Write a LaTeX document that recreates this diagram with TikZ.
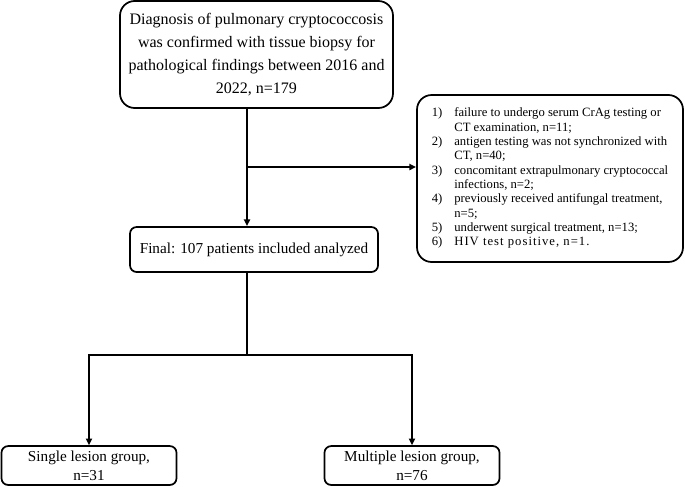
\documentclass[tikz,border=0pt]{standalone}
\usepackage{fontspec}
\setmainfont{Liberation Serif}
\usetikzlibrary{arrows.meta, positioning, calc}

\begin{document}
\begin{tikzpicture}[x=0.75pt, y=-0.75pt]
                \tikzstyle{bigbox} = [draw, line width=1.3pt, rounded corners=11pt, align=center, font=\fontsize{12}{17.2}\selectfont]
                \tikzstyle{smallbox} = [draw, line width=1.3pt, rounded corners=5pt, align=center, font=\fontsize{11.4}{14.5}\selectfont]
                \tikzstyle{flow} = [draw, line width=1.3pt]
                \tikzstyle{arr} = [flow, -{Triangle[length=5pt, width=4.5pt]}]

                \useasboundingbox (0,0) rectangle (685,486);

                \node[bigbox, minimum width=204.75pt, minimum height=80.25pt] (diag) at (256.5,54.5)
                    {Diagnosis of pulmonary cryptococcosis\\ was confirmed with tissue biopsy for\\ pathological findings between 2016 and\\ 2022, n=179};
                \node[bigbox, minimum width=199.5pt, minimum height=125.25pt, font=\fontsize{9.5}{10.75}\selectfont] (excl) at (550,178.5)
                    {\begin{tabular}{@{}l@{\hspace{9pt}}l@{}}
                     1) & failure to undergo serum CrAg testing or\\
                        & CT examination, n=11;\\
                     2) & antigen testing was not synchronized with\\
                        & CT, n=40;\\
                     3) & concomitant extrapulmonary cryptococcal\\
                        & infections, n=2;\\
                     4) & previously received antifungal treatment,\\
                        & n=5;\\
                     5) & underwent surgical treatment, n=13;\\
                     6) & {\addfontfeatures{LetterSpace=8}HIV test positive, n=1.}
                     \end{tabular}};
                \node[smallbox, minimum width=186pt, minimum height=33.75pt] (final) at (254,249.5)
                    {Final: 107 patients included analyzed};
                \node[smallbox, minimum width=131.25pt, minimum height=27.75pt] (single) at (89,465.5)
                    {Single lesion group,\\ n=31};
                \node[smallbox, minimum width=131.25pt, minimum height=27.75pt] (multi) at (412,465.5)
                    {Multiple lesion group,\\ n=76};

                \coordinate (split) at (247,167);
                \coordinate (fork) at (247,355);

                \draw[arr] (diag.south -| split) -- (final.north -| split);
                \draw[arr] (split) -- (excl.west |- split);
                \draw[flow] (final.south -| fork) -- (fork);
                \draw[arr] (fork) -| (single.north);
                \draw[arr] (fork) -| (multi.north);
            \end{tikzpicture}
\end{document}
